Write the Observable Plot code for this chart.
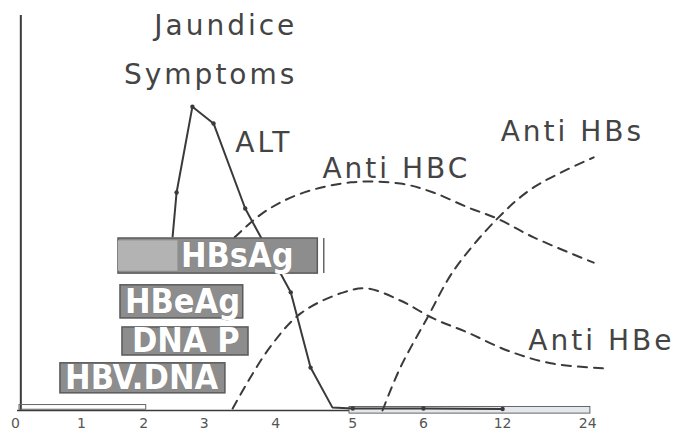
<!DOCTYPE html>
<html>
<head>
<meta charset="utf-8">
<script src="https://cdn.jsdelivr.net/npm/d3@7"></script>
<script src="https://cdn.jsdelivr.net/npm/@observablehq/plot@0.6"></script>
<style>
  html, body { margin: 0; padding: 0; background: #fff; }
  #chart svg { display: block; }
</style>
</head>
<body>
<div id="chart"></div>
<script>
// x axis: tick slot positions (uneven spacing as drawn) and their labels
const xTickPos = [-0.06, 0.94, 1.88, 2.80, 3.88, 5.05, 6.12, 7.32, 8.61];
const xTickLabels = ["0", "1", "2", "3", "4", "5", "6", "12", "24"];

// ALT (solid line with dots)
const altX = [2.32, 2.38, 2.62, 2.94, 3.42, 4.11, 4.41, 4.74, 5.05, 6.12, 7.32];
const altY = [44.6, 55.9, 77.9, 73.6, 51.8, 30.3, 11.0, 0.8, 0.5, 0.5, 0.4];
const altDotX = [2.38, 2.62, 2.94, 3.42, 4.11, 4.41, 5.05, 6.12, 7.32];
const altDotY = [55.9, 77.9, 73.6, 51.8, 30.3, 11.0, 0.5, 0.5, 0.4];

// Anti HBc (dashed)
const antiHBcX = [3.26, 3.70, 4.26, 5.02, 5.77, 6.27, 6.79, 7.24, 7.79, 8.70];
const antiHBcY = [44.4, 50.8, 55.6, 58.5, 58.2, 55.9, 52.1, 49.2, 44.4, 37.9];

// Anti HBe (dashed)
const antiHBeX = [3.23, 3.76, 4.26, 4.91, 5.27, 5.77, 6.27, 6.79, 7.39, 8.05, 8.85];
const antiHBeY = [0.5, 15.4, 24.9, 30.3, 31.3, 28.2, 23.6, 20.0, 15.4, 12.1, 10.8];

// Anti HBs (dashed)
const antiHBsX = [5.50, 5.77, 6.18, 6.58, 7.24, 7.79, 8.70];
const antiHBsY = [0, 11.0, 23.8, 35.9, 49.2, 57.2, 64.9];

// Antigen / DNA bars
const barNames = ["HBsAg", "HBeAg", "DNA P", "HBV.DNA"];
const barStart = [1.50, 1.53, 1.56, 0.62];
const barEnd = [4.52, 3.39, 3.47, 3.12];
const barLow = [35.1, 23.6, 14.1, 4.4];
const barHigh = [44.1, 32.1, 21.3, 12.1];
const barLabelX = [3.30, 2.47, 2.52, 1.85];
const barLabelY = [39.7, 27.9, 17.7, 8.2];

// Curve labels
const labelTexts = ["Jaundice", "Symptoms", "ALT", "Anti HBC", "Anti HBs", "Anti HBe"];
const labelX = [4.21, 4.21, 3.27, 4.59, 7.29, 7.71];
const labelY = [96.2, 83.8, 66.2, 59.7, 69.2, 15.4];
const labelAnchor = ["end", "end", "start", "start", "start", "start"];

const toPts = (xs, ys) => xs.map((x, i) => ({x, y: ys[i]}));
const alt = toPts(altX, altY);
const altDots = toPts(altDotX, altDotY);
const hbc = toPts(antiHBcX, antiHBcY);
const hbe = toPts(antiHBeX, antiHBeY);
const hbs = toPts(antiHBsX, antiHBsY);
const bars = barNames.map((name, i) => ({name, x1: barStart[i], x2: barEnd[i], y1: barLow[i], y2: barHigh[i], lx: barLabelX[i], ly: barLabelY[i]}));
const labels = labelTexts.map((t, i) => ({t, x: labelX[i], y: labelY[i], a: labelAnchor[i]}));
const ticks = xTickPos.map((p, i) => ({p, t: xTickLabels[i]}));

const ink = "#3a3a3a";
const dash = "9,7";

const chart = Plot.plot({
  width: 679,
  height: 445,
  marginLeft: 19,
  marginRight: 66,
  marginTop: 20,
  marginBottom: 35,
  x: {domain: [0, 9], axis: null},
  y: {domain: [0, 100], axis: null},
  style: {background: "#fff", overflow: "visible"},
  marks: [
    // vertical axis line
    Plot.ruleX([0.02], {y1: 0, y2: 101.3, stroke: ink, strokeWidth: 2}),
    // baseline with hand-drawn double segments
    Plot.ruleY([0], {x1: -0.03, x2: 8.65, stroke: ink, strokeWidth: 1.6}),
    Plot.rect([{x1: 0.0, x2: 1.92, y1: 0.2, y2: 1.4}], {x1: "x1", x2: "x2", y1: "y1", y2: "y2", fill: "none", stroke: "#666", strokeWidth: 1}),
    Plot.rect([{x1: 5.0, x2: 8.65, y1: -0.8, y2: 0.9}], {x1: "x1", x2: "x2", y1: "y1", y2: "y2", fill: "#e4e8ec", stroke: "#666", strokeWidth: 1}),
    // ALT
    Plot.line(alt, {x: "x", y: "y", stroke: ink, strokeWidth: 2}),
    Plot.dot(altDots, {x: "x", y: "y", r: 2.2, fill: ink}),
    // antibodies
    Plot.line(hbc, {x: "x", y: "y", stroke: ink, strokeWidth: 2, strokeDasharray: dash, curve: "catmull-rom"}),
    Plot.line(hbe, {x: "x", y: "y", stroke: ink, strokeWidth: 2, strokeDasharray: dash, curve: "catmull-rom"}),
    Plot.line(hbs, {x: "x", y: "y", stroke: ink, strokeWidth: 2, strokeDasharray: dash, curve: "catmull-rom"}),
    // bars (drawn over the ALT line, as in the original)
    Plot.rect(bars, {x1: "x1", x2: "x2", y1: "y1", y2: "y2", fill: "#8d8d8d", stroke: "#5a5a5a", strokeWidth: 1.5}),
    Plot.rect(bars.filter(d => d.name === "HBsAg"), {x1: "x1", x2: d => d.x1 + 0.9, y1: d => d.y1 + 0.6, y2: d => d.y2 - 0.6, fill: "#b3b3b3"}),
    Plot.ruleX(bars.filter(d => d.name === "HBsAg"), {x: d => d.x2 + 0.09, y1: "y1", y2: "y2", stroke: "#666", strokeWidth: 1.5}),
    Plot.text(bars, {x: "lx", y: "ly", text: "name", fill: "#fff", stroke: "#777", strokeWidth: 0.6, fontSize: 34, fontWeight: "bold", fontFamily: "DejaVu Sans Condensed, DejaVu Sans", lineAnchor: "middle", textAnchor: "middle"}),
    // labels
    Plot.text(labels.filter(d => d.a === "end"), {x: "x", y: "y", text: "t", textAnchor: "end", lineAnchor: "bottom", fontSize: 28, fill: "#444", fontFamily: "DejaVu Sans"}),
    Plot.text(labels.filter(d => d.a === "start"), {x: "x", y: "y", text: "t", textAnchor: "start", lineAnchor: "bottom", fontSize: 28, fill: "#444", fontFamily: "DejaVu Sans"}),
    // x tick labels
    Plot.text(ticks, {x: "p", y: 0, text: "t", dy: 13, fontSize: 14, fill: "#555", fontFamily: "DejaVu Sans", lineAnchor: "middle"})
  ]
});
// letter spacing for the curve labels (as in the scanned original)
chart.querySelectorAll("g[aria-label='text'] text").forEach(t => {
  const fs = t.parentNode.getAttribute("font-size");
  if (fs === "28") t.setAttribute("letter-spacing", "3");
});
document.getElementById("chart").appendChild(chart);
</script>
</body>
</html>
